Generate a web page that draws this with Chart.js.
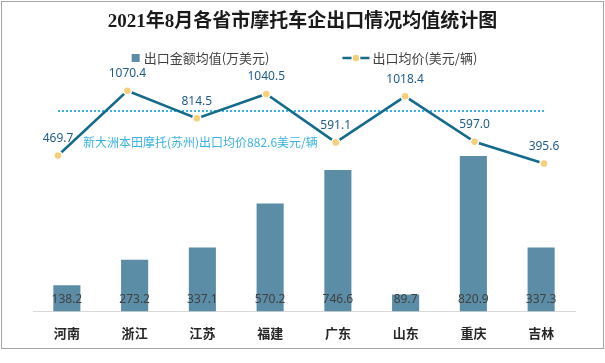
<!DOCTYPE html>
<html>
<head>
<meta charset="utf-8">
<script src="https://cdn.jsdelivr.net/npm/chart.js@4/dist/chart.umd.min.js"></script>
<style>
html,body{margin:0;padding:0;background:#fff;}
#wrap{position:relative;width:605px;height:363px;}
#frame{position:absolute;left:1px;top:1px;width:601px;height:346px;border:1px solid #a6a6a6;box-sizing:content-box;}
canvas{position:absolute;left:0;top:0;}
</style>
</head>
<body>
<div id="wrap">
<div id="frame"></div>
<canvas id="c" width="605" height="363"></canvas>
</div>
<script>
// ---- data ----
const titleText = '2021年8月各省市摩托车企出口情况均值统计图';
const categories = ['河南','浙江','江苏','福建','广东','山东','重庆','吉林'];
const exportAmount = [138.2, 273.2, 337.1, 570.2, 746.6, 89.7, 820.9, 337.3];
const exportPrice = [469.7, 1070.4, 814.5, 1040.5, 591.1, 1018.4, 597.0, 395.6];
const hondaPrice = 882.6;
const hondaText = '新大洲本田摩托(苏州)出口均价882.6美元/辆';
const seriesNames = ['出口金额均值(万美元)', '出口均价(美元/辆)'];

const BAR = '#5b8ea6', LINE = '#146b8c', DOT = '#f7cf78', REF = '#3ab3e3';
const CJK = '"Noto Sans CJK SC","Noto Sans",sans-serif';

const linePts = exportPrice.map((v,i)=>({x:i,y:v}));
const refPts = categories.map((c,i)=>({x:i,y:hondaPrice}));

const decor = {
  id:'decor',
  afterDatasetsDraw(chart){
    const ctx = chart.ctx, W = chart.width;
    ctx.save();
    // title
    ctx.fillStyle = '#1a1a1a';
    ctx.font = 'bold 19px "Liberation Serif","Noto Sans CJK SC",serif';
    ctx.textAlign = 'center'; ctx.textBaseline = 'middle';
    ctx.fillText(titleText, W/2, 22);
    // legend
    ctx.font = '13px ' + CJK;
    ctx.textAlign = 'left';
    const w1 = ctx.measureText(seriesNames[0]).width;
    const w2 = ctx.measureText(seriesNames[1]).width;
    const gap = 73;
    const total = 8 + 4 + w1 + gap + 27 + 3 + w2;
    let x = W/2 + 2 - total/2;
    const ly = 58;
    ctx.fillStyle = BAR;
    ctx.fillRect(x, ly-4, 8, 8);
    ctx.fillStyle = '#404040';
    ctx.fillText(seriesNames[0], x+12, ly);
    x += 12 + w1 + gap;
    ctx.strokeStyle = LINE; ctx.lineWidth = 2.5;
    ctx.beginPath(); ctx.moveTo(x, ly); ctx.lineTo(x+27, ly); ctx.stroke();
    ctx.fillStyle = '#fff';
    ctx.beginPath(); ctx.arc(x+13.5, ly, 4.5, 0, Math.PI*2); ctx.fill();
    ctx.fillStyle = DOT;
    ctx.beginPath(); ctx.arc(x+13.5, ly, 3.2, 0, Math.PI*2); ctx.fill();
    ctx.fillStyle = '#404040';
    ctx.fillText(seriesNames[1], x+30, ly);

    // bar value labels (inside base)
    ctx.font = '12px "Noto Sans",sans-serif';
    ctx.textAlign = 'center';
    ctx.fillStyle = '#404040';
    const barMeta = chart.getDatasetMeta(0);
    barMeta.data.forEach((el,i)=>{
      ctx.fillText(exportAmount[i].toFixed(1), el.x, el.base - 12);
    });
    // line value labels (above)
    ctx.fillStyle = '#1e5c8a';
    const lineMeta = chart.getDatasetMeta(1);
    lineMeta.data.forEach((el,i)=>{
      ctx.fillText(exportPrice[i].toFixed(1), el.x, el.y - 17);
    });
    // reference annotation text
    const refMeta = chart.getDatasetMeta(2);
    const r0 = refMeta.data[0];
    ctx.font = '12px ' + CJK;
    ctx.textAlign = 'left';
    ctx.fillStyle = REF;
    ctx.fillText(hondaText, r0.x + 25, r0.y + 31);
    ctx.restore();
  }
};

new Chart(document.getElementById('c'), {
  type:'bar',
  data: {
    labels: categories,
    datasets: [
      {type:'bar', label:seriesNames[0], data:exportAmount, backgroundColor:BAR,
       barPercentage:0.4, categoryPercentage:1, grouped:false, yAxisID:'y', xAxisID:'x', order:3},
      {type:'line', label:seriesNames[1], data:linePts, borderColor:LINE, borderWidth:2.5,
       pointRadius:4, pointBackgroundColor:DOT, pointBorderColor:'#fff', pointBorderWidth:1.5,
       tension:0, yAxisID:'y2', xAxisID:'xl', order:1},
      {type:'line', label:'ref', data:refPts, borderColor:REF, borderWidth:2, borderDash:[2,2],
       pointRadius:0, yAxisID:'y2', xAxisID:'xl', order:2}
    ]
  },
  options: {
    responsive:false, animation:false,
    layout:{padding:{left:33, right:30, top:80, bottom:8}},
    plugins:{legend:{display:false}, title:{display:false}, tooltip:{enabled:false}},
    scales:{
      x:{type:'category', offset:true,
         grid:{display:false, drawTicks:false},
         border:{display:true, color:'#d9d9d9', width:1},
         ticks:{padding:14, color:'#262626', font:{family:'"Noto Sans CJK SC",sans-serif', size:13, weight:'bold'}}},
      xl:{type:'linear', display:false, offset:false, min:-0.36, max:7.447},
      y:{display:false, min:0, max:1222},
      y2:{display:false, min:-977, max:1170}
    }
  },
  plugins:[decor]
});
</script>
</body>
</html>
